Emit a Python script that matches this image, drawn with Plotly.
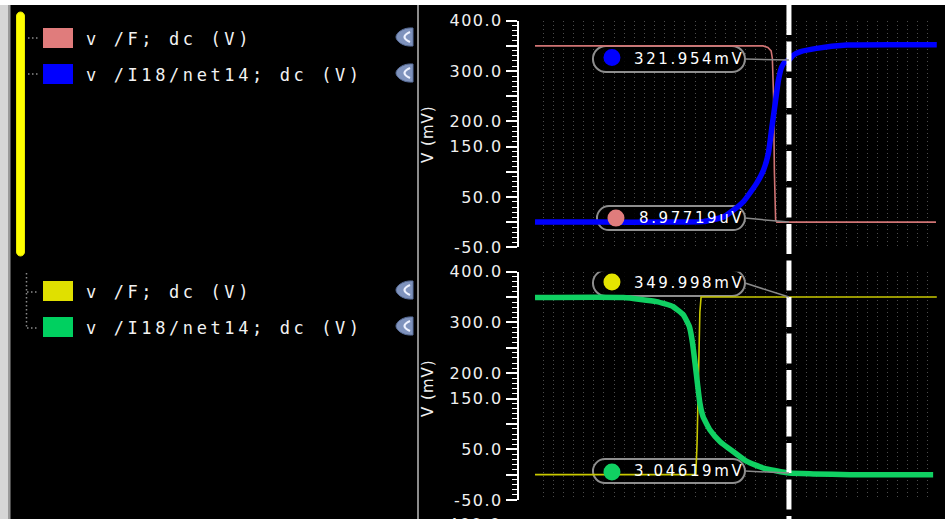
import plotly.graph_objects as go

W, H = 945, 519

# ---------------- data (sweep position as fraction of the visible range, value in mV) -------------
top_F_x = [0.005, 0.568, 0.580, 0.588, 0.591, 0.594, 0.596, 0.599, 0.602, 0.995]
top_F_mv = [350, 350, 347, 340, 325, 250, 100, 5, 0, 0]

top_net_x = [0.005, 0.165, 0.321, 0.420, 0.469, 0.486, 0.519, 0.552, 0.569, 0.581,
             0.589, 0.598, 0.606, 0.614, 0.622, 0.632, 0.643, 0.659, 0.700, 0.775, 0.997]
top_net_mv = [0, 0, 0, 1, 10, 18.5, 40, 77, 103, 136,
              183, 236, 282, 308, 318, 321.954, 331.6, 338, 345, 351.5, 352]

bot_F_x = [0.005, 0.402, 0.405, 0.409, 0.412, 0.415, 0.997]
bot_F_mv = [0, 0, 60, 180, 320, 350, 350]

bot_net_x = [0.005, 0.223, 0.305, 0.346, 0.371, 0.386, 0.394, 0.400, 0.406, 0.412,
             0.420, 0.437, 0.462, 0.495, 0.528, 0.569, 0.632, 0.692, 0.783, 0.988]
bot_net_mv = [349, 349, 341, 331, 315, 292, 259, 220, 180, 141,
              114, 88, 65, 45, 26, 13, 3.04619, 1.4, 0, 0]

cursor_x = 0.632

y_tickvals = [-50, 0, 50, 100, 150, 200, 250, 300, 350, 400]
y_ticktext = ["-50.0", "", "50.0", "", "150.0", "200.0", "", "300.0", "", "400.0"]

legend_top = ["v /F; dc (V)", "v /I18/net14; dc (V)"]
legend_bot = ["v /F; dc (V)", "v /I18/net14; dc (V)"]

marker_texts = ["321.954mV", "8.97719uV", "349.998mV", "3.04619mV"]
marker_values = [321.954, 0.00897719, 349.998, 3.04619]

C_PINK, C_BLUE, C_YEL, C_GRN = "#e07c7c", "#0000ff", "#dcdc00", "#10d062"


def px(x):
    return x / W


def py(y):
    return 1 - y / H


def ls(txt, sp):
    return f'<span style="letter-spacing:{sp}px">{txt}</span>'


fig = go.Figure()
fig.add_trace(go.Scatter(x=top_F_x, y=top_F_mv, mode="lines", xaxis="x", yaxis="y",
                         line=dict(color="#d07474", width=1.6), hoverinfo="skip"))
fig.add_trace(go.Scatter(x=top_net_x, y=top_net_mv, mode="lines", xaxis="x", yaxis="y",
                         line=dict(color=C_BLUE, width=5.5, shape="spline", smoothing=0.45), hoverinfo="skip"))
fig.add_trace(go.Scatter(x=bot_F_x, y=bot_F_mv, mode="lines", xaxis="x2", yaxis="y2",
                         line=dict(color="#c8c800", width=1.6), hoverinfo="skip"))
fig.add_trace(go.Scatter(x=bot_net_x, y=bot_net_mv, mode="lines", xaxis="x2", yaxis="y2",
                         line=dict(color=C_GRN, width=5.5, shape="spline", smoothing=0.45), hoverinfo="skip"))

X_DOM = [px(533), px(938)]
TOP_DOM = [py(247.3), py(20.7)]
BOT_DOM = [py(500.0), py(271.7)]
GRID = "#4c4c4c"
GDASH = "1px,3px"

xcommon = dict(domain=X_DOM, range=[0, 1], showticklabels=False, ticks="", showline=False,
               zeroline=False, showgrid=True, tick0=0, dtick=0.025, gridcolor=GRID,
               griddash=GDASH, gridwidth=1, fixedrange=True, automargin=False)
ticktext = [ls(t, 1.5) if t else "" for t in y_ticktext]
ycommon = dict(range=[-50, 400], anchor="free", position=px(518), side="left",
               showline=True, linecolor="white", linewidth=2, ticks="outside", ticklen=11,
               tickwidth=1.5, tickcolor="white", tickmode="array", tickvals=y_tickvals,
               ticktext=ticktext, tickfont=dict(color="#f0f0f0", size=16, family="DejaVu Sans"),
               showgrid=False, zeroline=False, fixedrange=True, automargin=False,
               minor=dict(ticks="outside", ticklen=5, tickwidth=1, tickcolor="white",
                          tickmode="linear", tick0=-50, dtick=10, showgrid=False))
ygrid = dict(range=[-50, 400], showticklabels=False, ticks="", showline=False, zeroline=False,
             showgrid=True, tick0=0, dtick=20, gridcolor=GRID, griddash=GDASH, gridwidth=1,
             fixedrange=True, automargin=False)

fig.update_layout(
    width=W, height=H, margin=dict(l=0, r=0, t=0, b=0, autoexpand=False),
    paper_bgcolor="black", plot_bgcolor="black", showlegend=False,
    xaxis=dict(anchor="y", **xcommon),
    xaxis2=dict(anchor="y2", **xcommon),
    yaxis=dict(domain=TOP_DOM, **ycommon),
    yaxis2=dict(domain=BOT_DOM, **ycommon),
    yaxis3=dict(overlaying="y", anchor="x", **ygrid),
    yaxis4=dict(overlaying="y2", anchor="x2", **ygrid),
)

shapes = []
annos = []

# window chrome
shapes.append(dict(type="rect", xref="paper", yref="paper", x0=0, x1=1, y0=py(5), y1=1,
                   fillcolor="white", line=dict(width=0), layer="above"))
shapes.append(dict(type="rect", xref="paper", yref="paper", x0=0, x1=px(8), y0=0, y1=py(5),
                   fillcolor="#d6d6d6", line=dict(width=0), layer="above"))
shapes.append(dict(type="rect", xref="paper", yref="paper", x0=px(8), x1=px(10.5), y0=0, y1=py(5),
                   fillcolor="#9a9a9a", line=dict(width=0), layer="above"))
shapes.append(dict(type="line", xref="paper", yref="paper", x0=px(418), x1=px(418), y0=0, y1=py(5),
                   line=dict(color="#8c8c8c", width=2), layer="above"))

# yellow selection bar (rounded)
bx0, bx1, by0, by1 = 16.5, 24.5, 12, 256
r = (bx1 - bx0) / 2
k = 0.5523 * r
bar = (f"M {px(bx0)},{py(by0 + r)} C {px(bx0)},{py(by0 + r - k)} {px(bx0 + r - k)},{py(by0)} {px(bx0 + r)},{py(by0)} "
       f"C {px(bx0 + r + k)},{py(by0)} {px(bx1)},{py(by0 + r - k)} {px(bx1)},{py(by0 + r)} "
       f"L {px(bx1)},{py(by1 - r)} C {px(bx1)},{py(by1 - r + k)} {px(bx0 + r + k)},{py(by1)} {px(bx0 + r)},{py(by1)} "
       f"C {px(bx0 + r - k)},{py(by1)} {px(bx0)},{py(by1 - r + k)} {px(bx0)},{py(by1 - r)} Z")
shapes.append(dict(type="path", xref="paper", yref="paper", path=bar, fillcolor="#ffff00",
                   line=dict(color="#e8e800", width=1)))

# tree connector dots
dot_line = dict(color="#8a8a8a", width=1.5, dash="1.5px,2.5px")
for yy in (38, 74):
    shapes.append(dict(type="line", xref="paper", yref="paper", x0=px(28), x1=px(38),
                       y0=py(yy), y1=py(yy), line=dot_line))
shapes.append(dict(type="line", xref="paper", yref="paper", x0=px(26.5), x1=px(26.5),
                   y0=py(273), y1=py(328), line=dot_line))
for yy in (292, 328):
    shapes.append(dict(type="line", xref="paper", yref="paper", x0=px(27), x1=px(37),
                       y0=py(yy), y1=py(yy), line=dot_line))

# legend entries
rows = [(38, C_PINK, legend_top[0]), (74, C_BLUE, legend_top[1]),
        (291, "#e0e000", legend_bot[0]), (327, "#00d060", legend_bot[1])]
for yy, col, txt in rows:
    shapes.append(dict(type="rect", xref="paper", yref="paper", x0=px(43), x1=px(73),
                       y0=py(yy + 10), y1=py(yy - 10), fillcolor=col, line=dict(width=0)))
    annos.append(dict(xref="paper", yref="paper", x=px(84), y=py(yy + 1), xanchor="left",
                      yanchor="middle", showarrow=False, text=ls(txt, 3.6),
                      font=dict(family="DejaVu Sans Mono", size=17, color="#f2f2f2")))
    # visibility icon
    cx, cy = 405, yy - 1
    icon = (f"M {px(cx + 8)},{py(cy - 9)} C {px(cx - 2)},{py(cy - 10)} {px(cx - 9)},{py(cy - 4)} {px(cx - 9)},{py(cy)} "
            f"C {px(cx - 9)},{py(cy + 4)} {px(cx - 2)},{py(cy + 10)} {px(cx + 8)},{py(cy + 9)} Z")
    shapes.append(dict(type="path", xref="paper", yref="paper", path=icon, fillcolor="#7f93bd",
                       line=dict(color="#5a6f9a", width=1)))
    arc = (f"M {px(cx + 5)},{py(cy - 5)} Q {px(cx - 6)},{py(cy)} {px(cx + 5)},{py(cy + 5)}")
    shapes.append(dict(type="path", xref="paper", yref="paper", path=arc,
                       line=dict(color="#eef2ff", width=2.2)))

# axis titles
for yc in (134, 388):
    annos.append(dict(xref="paper", yref="paper", x=px(428), y=py(yc), textangle=-90,
                      showarrow=False, text=ls("V (mV)", 1), xanchor="center", yanchor="middle",
                      font=dict(family="DejaVu Sans", size=15, color="#f0f0f0")))
# partially visible label of the next strip
annos.append(dict(xref="paper", yref="paper", x=px(503), y=py(513), xanchor="right", yanchor="top",
                  showarrow=False, text=ls("400.0", 1.5),
                  font=dict(family="DejaVu Sans", size=16, color="#f0f0f0")))

# cursor (dashed vertical line through both strips)
shapes.append(dict(type="line", xref="x", yref="paper", x0=cursor_x, x1=cursor_x, y0=py(5), y1=0,
                   line=dict(color="white", width=5, dash="30px,6.5px"), layer="above"))

# value markers at the cursor
mk = [
    ("x", "y", C_BLUE, -196, -44, 1, 13, -177, 2.5, -157),
    ("x", "y", C_PINK, -192, -44, 4, 12, -173, 4, -152),
    ("x2", "y2", "#e4e400", -196, -44, 14, 13, -177, 15, -157),
    ("x2", "y2", "#10d062", -196, -44, 2, 12, -177, 1, -157),
]
for (xr, yr, col, L, R, c, rr, dx, dy, tx), txt, val in zip(mk, marker_texts, marker_values):
    kk = 0.5523 * rr
    t, b = c + rr, c - rr
    pill = (f"M {L + rr},{t} L {R - rr},{t} C {R - rr + kk},{t} {R},{c + kk} {R},{c} "
            f"C {R},{c - kk} {R - rr + kk},{b} {R - rr},{b} L {L + rr},{b} "
            f"C {L + rr - kk},{b} {L},{c - kk} {L},{c} C {L},{c + kk} {L + rr - kk},{t} {L + rr},{t} Z")
    shapes.append(dict(type="path", xref=xr, yref=yr, xsizemode="pixel", ysizemode="pixel",
                       xanchor=cursor_x, yanchor=val, path=pill, fillcolor="rgba(0,0,0,0.85)",
                       line=dict(color="#8e8e8e", width=2), layer="between"))
    shapes.append(dict(type="line", xref=xr, yref=yr, xsizemode="pixel", ysizemode="pixel",
                       xanchor=cursor_x, yanchor=val, x0=R, y0=c, x1=0, y1=0,
                       line=dict(color="#8a8a8a", width=1.5), layer="above"))
    shapes.append(dict(type="circle", xref=xr, yref=yr, xsizemode="pixel", ysizemode="pixel",
                       xanchor=cursor_x, yanchor=val, x0=dx - 8.5, x1=dx + 8.5, y0=dy - 8.5, y1=dy + 8.5,
                       fillcolor=col, line=dict(width=0), layer="above"))
    annos.append(dict(xref=xr, yref=yr, x=cursor_x, y=val, xshift=tx, yshift=c, xanchor="left",
                      yanchor="middle", showarrow=False, text=ls(txt, 2.6),
                      font=dict(family="DejaVu Sans", size=15, color="white")))

fig.update_layout(shapes=shapes, annotations=annos)
fig.write_html(
    "out.html",
    config={"displayModeBar": False},
    post_script="document.body.style.margin='0';document.body.style.overflow='hidden';"
                "document.documentElement.style.overflow='hidden';",
)
